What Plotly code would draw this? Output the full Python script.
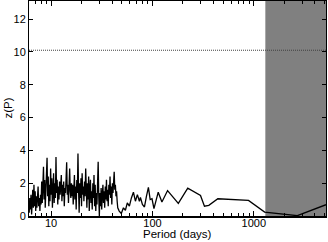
import math
import plotly.graph_objects as go

# Periodogram data (period in days, z(P))
period = [
    6.00, 6.08, 6.16, 6.25, 6.33, 6.42, 6.50, 6.59, 6.68, 6.77, 6.86, 6.96, 7.05,
    7.15, 7.24, 7.34, 7.44, 7.54, 7.65, 7.75, 7.86, 7.96,
    8.07, 8.18, 8.29, 8.41, 8.52, 8.64, 8.75, 8.87, 8.99, 9.12, 9.24, 9.37, 9.49, 9.62, 9.75, 9.89, 10.02,
    10.16, 10.30, 10.44, 10.58, 10.72, 10.87, 11.02, 11.17, 11.32, 11.47, 11.63, 11.79, 11.95, 12.11, 12.28, 12.44,
    12.61, 12.78, 12.96, 13.13, 13.31, 13.49, 13.68, 13.86, 14.05, 14.24, 14.44, 14.63, 14.83, 15.03, 15.24, 15.45, 15.66, 15.87,
    16.08, 16.30, 16.52, 16.75, 16.98, 17.21, 17.44, 17.68, 17.92, 18.16, 18.41, 18.66, 18.91, 19.17, 19.43, 19.70, 19.96, 20.23, 20.51, 20.79,
    21.07, 21.36, 21.65, 21.94, 22.24, 22.54, 22.85, 23.16, 23.47, 23.79, 24.11, 24.44, 24.77, 25.11, 25.45, 25.80, 26.15, 26.50, 26.86, 27.23, 27.60, 27.97, 28.35, 28.74, 29.13,
    29.52, 29.92, 30.33, 30.74, 31.16, 31.58, 32.01, 32.45, 32.89, 33.33, 33.79, 34.24, 34.71, 35.18, 35.66, 36.14, 36.63, 37.13, 37.63, 38.14, 38.66, 39.19, 39.72, 40.26, 40.80, 41.36, 41.92, 42.49, 43.07, 43.65, 44.24, 44.85, 45.45,
    47.0, 49.3, 51.7, 54.1, 56.5, 59.2, 62.0, 64.9, 67.9, 71.0, 74.3, 76.1, 79.6, 83.4, 87.2, 91.2, 95.0, 99.0, 103.5,
    110, 114, 124, 141, 180, 223, 298, 326, 360, 442, 887, 1280, 2690, 5160,
]
zp = [
    0.9, 0.2, 1.1, 0.4, 1.3, 0.1, 0.8, 1.6, 0.5, 1.9, 0.6, 1.5, 0.3,
    1.2, 0.5, 1.4, 1.8, 0.6, 1.1, 0.3, 1.3, 0.7,
    2.1, 0.8, 2.6, 3.0, 1.0, 2.2, 0.5, 1.8, 2.9, 3.55, 1.2, 2.4, 0.6, 1.9, 0.9, 2.9, 1.3,
    2.3, 0.5, 1.7, 2.6, 0.8, 2.0, 1.1, 3.6, 1.4, 2.2, 0.7, 1.8, 1.0, 2.1, 1.3, 2.0,
    2.5, 0.9, 1.9, 1.2, 2.1, 0.6, 1.7, 1.4, 2.3, 3.27, 1.3, 1.9, 0.8, 1.6, 2.9, 1.5, 1.1, 2.0,
    1.2, 1.9, 0.7, 1.5, 2.5, 1.0, 1.8, 0.4, 2.2, 1.4, 3.8, 1.6, 0.2, 2.0, 1.1, 2.3, 0.6, 2.6, 1.3, 1.8,
    0.9, 2.1, 1.2, 2.9, 1.5, 0.5, 2.0, 1.0, 2.4, 0.3, 1.7, 2.2, 0.8, 1.5, 0.4, 2.0, 1.1, 2.5, 0.6, 1.9, 0.3, 1.4, 0.7, 2.4, 3.3,
    1.2, 0.0, 1.4, 0.6, 1.7, 0.4, 1.3, 1.9, 0.8, 1.5, 0.5, 1.8, 1.0, 2.2, 0.9, 1.6, 0.6, 1.9, 1.3, 2.4, 1.1, 1.8, 0.7, 2.0, 1.4, 2.2, 2.7, 1.6, 1.9, 1.2, 1.5, 0.9, 0.5,
    0.3, 0.15, 0.5, 0.35, 0.8, 0.6, 1.1, 1.45, 0.9, 1.3, 0.9, 1.13, 0.7, 0.55, 1.2, 1.74, 1.0, 1.05, 0.45,
    1.05, 1.45, 0.85, 1.55, 0.77, 1.7, 1.25, 0.6, 0.65, 1.05, 0.95, 0.24, 0.02, 0.69,
]

threshold = 10.1
shade_start = 1300
x_min, x_max = 6.05, 5160
y_min, y_max = 0, 13.1
x_tickvals = [10, 100, 1000]
x_ticktext = ["10", "100", "1000"]
x_minor_tickvals = [7, 8, 9, 20, 30, 40, 50, 60, 70, 80, 90,
                    200, 300, 400, 500, 600, 700, 800, 900, 2000, 3000, 4000, 5000]
y_tickvals = [0, 2, 4, 6, 8, 10, 12]

font = "Liberation Sans, Arial, sans-serif"

fig = go.Figure()
fig.add_trace(go.Scatter(
    x=[shade_start, shade_start, x_max, x_max], y=[y_min, y_max, y_max, y_min],
    fill="toself", fillcolor="#808080", mode="none", hoverinfo="skip", showlegend=False,
))
fig.add_trace(go.Scatter(
    x=period, y=zp, mode="lines", line=dict(color="black", width=1.3), showlegend=False,
))
fig.add_shape(type="line", xref="paper", x0=0, x1=1, yref="y", y0=threshold, y1=threshold,
              line=dict(color="#404040", width=1, dash="1px,1px"), layer="above")

fig.add_annotation(text="Period (days)", xref="paper", yref="paper", x=0.5, y=0,
                   yshift=-10, yanchor="top", showarrow=False, font=dict(size=11.5))
fig.add_annotation(text="z(P)", xref="paper", yref="paper", x=0, y=0.5,
                   xshift=-14, xanchor="right", textangle=-90, showarrow=False,
                   font=dict(size=11.5))

fig.update_layout(
    width=328, height=242,
    margin=dict(l=29, r=2, t=1, b=26),
    paper_bgcolor="white", plot_bgcolor="white",
    font=dict(family=font, size=11, color="black"),
    xaxis=dict(
        type="log", range=[math.log10(x_min), math.log10(x_max)],
        tickvals=x_tickvals, ticktext=x_ticktext, automargin=False,
        ticks="inside", ticklen=5, tickcolor="black", mirror="ticks",
        showline=True, linecolor="black", linewidth=1.5,
        showgrid=False, zeroline=False, ticklabelstandoff=-4,
        minor=dict(tickvals=x_minor_tickvals, ticks="inside", ticklen=3,
                   tickcolor="black", showgrid=False),
        tickfont=dict(size=11),
    ),
    yaxis=dict(
        range=[y_min, y_max], tickvals=y_tickvals, automargin=False,
        ticks="inside", ticklen=4, tickcolor="black", mirror="ticks",
        showline=True, linecolor="black", linewidth=1,
        showgrid=False, zeroline=False,
        tickfont=dict(size=11),
    ),
)
fig.write_html("out.html", config={"displayModeBar": False},
               post_script="document.body.style.margin='0px';")
